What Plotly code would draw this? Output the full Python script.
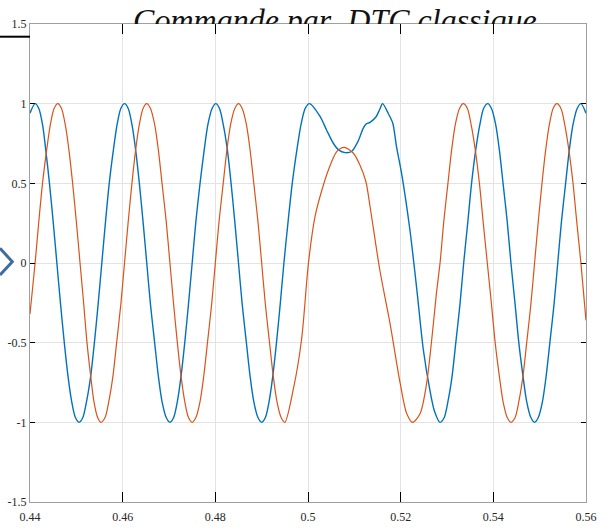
import plotly.graph_objects as go

# ---- data: (time s, value) ----
blue_points = [
    (0.4400, 0.94), (0.4411, 1.00), (0.4419, 0.97), (0.4427, 0.87), (0.4434, 0.71),
    (0.4442, 0.50), (0.4450, 0.26), (0.4458, 0.00), (0.4466, -0.26), (0.4474, -0.50),
    (0.4482, -0.71), (0.4490, -0.87), (0.4498, -0.97), (0.4506, -1.00), (0.4514, -0.97),
    (0.4522, -0.87), (0.4531, -0.71), (0.4539, -0.50), (0.4547, -0.26), (0.4555, 0.00),
    (0.4563, 0.26), (0.4571, 0.50), (0.4580, 0.71), (0.4588, 0.87), (0.4596, 0.97),
    (0.4604, 1.00), (0.4612, 0.97), (0.4620, 0.87), (0.4628, 0.71), (0.4636, 0.50),
    (0.4644, 0.26), (0.4652, 0.00), (0.4660, -0.26), (0.4669, -0.50), (0.4677, -0.71),
    (0.4685, -0.87), (0.4694, -0.97), (0.4702, -1.00), (0.4710, -0.97), (0.4718, -0.87),
    (0.4726, -0.71), (0.4734, -0.50), (0.4742, -0.26), (0.4750, 0.00), (0.4758, 0.26),
    (0.4767, 0.50), (0.4776, 0.71), (0.4784, 0.87), (0.4793, 0.97), (0.4801, 1.00),
    (0.4809, 0.97), (0.4817, 0.87), (0.4826, 0.71), (0.4834, 0.50), (0.4842, 0.26),
    (0.4850, 0.00), (0.4858, -0.26), (0.4867, -0.50), (0.4875, -0.71), (0.4883, -0.87),
    (0.4892, -0.97), (0.4900, -1.00), (0.4908, -0.97), (0.4916, -0.87), (0.4924, -0.71),
    (0.4932, -0.50), (0.4940, -0.26), (0.4948, 0.00), (0.4957, 0.26), (0.4966, 0.50),
    (0.4976, 0.71), (0.4985, 0.87), (0.4994, 0.97), (0.5003, 1.00),
    # disturbed interval
    (0.5026, 0.92), (0.5040, 0.835), (0.5055, 0.75), (0.5066, 0.71), (0.5080, 0.693),
    (0.5094, 0.70), (0.5109, 0.77), (0.5119, 0.845), (0.5125, 0.871), (0.5134, 0.883),
    (0.5147, 0.918), (0.5155, 0.965), (0.5161, 1.00), (0.5173, 0.94), (0.5183, 0.877),
    (0.5191, 0.73), (0.5202, 0.563), (0.5220, 0.207), (0.5235, -0.17), (0.5249, -0.546),
    (0.5263, -0.797), (0.5273, -0.93), (0.5285, -1.00),
    # after
    (0.5294, -0.97), (0.5302, -0.87), (0.5311, -0.71), (0.5319, -0.50), (0.5328, -0.26),
    (0.5336, 0.00), (0.5345, 0.26), (0.5353, 0.50), (0.5362, 0.71), (0.5371, 0.87),
    (0.5379, 0.97), (0.5388, 1.00), (0.5396, 0.97), (0.5405, 0.87), (0.5413, 0.71),
    (0.5421, 0.50), (0.5430, 0.26), (0.5438, 0.00), (0.5447, -0.26), (0.5455, -0.50),
    (0.5464, -0.71), (0.5472, -0.87), (0.5481, -0.97), (0.5489, -1.00), (0.5497, -0.97),
    (0.5506, -0.87), (0.5514, -0.71), (0.5522, -0.50), (0.5531, -0.26), (0.5539, 0.00),
    (0.5547, 0.26), (0.5556, 0.50), (0.5564, 0.71), (0.5572, 0.87), (0.5581, 0.97),
    (0.5589, 1.00), (0.5600, 0.94),
]

orange_points = [
    (0.4400, -0.32), (0.4411, 0.00), (0.4419, 0.26), (0.4427, 0.50), (0.4436, 0.71),
    (0.4444, 0.87), (0.4452, 0.97), (0.4460, 1.00), (0.4468, 0.97), (0.4476, 0.87),
    (0.4484, 0.71), (0.4492, 0.50), (0.4500, 0.26), (0.4508, 0.00), (0.4516, -0.26),
    (0.4523, -0.50), (0.4531, -0.71), (0.4538, -0.87), (0.4546, -0.97), (0.4553, -1.00),
    (0.4562, -0.97), (0.4570, -0.87), (0.4579, -0.71), (0.4587, -0.50), (0.4596, -0.26),
    (0.4604, 0.00), (0.4612, 0.26), (0.4620, 0.50), (0.4628, 0.71), (0.4636, 0.87),
    (0.4644, 0.97), (0.4652, 1.00), (0.4660, 0.97), (0.4669, 0.87), (0.4677, 0.71),
    (0.4685, 0.50), (0.4694, 0.26), (0.4702, 0.00), (0.4710, -0.26), (0.4718, -0.50),
    (0.4726, -0.71), (0.4734, -0.87), (0.4742, -0.97), (0.4750, -1.00), (0.4758, -0.97),
    (0.4767, -0.87), (0.4775, -0.71), (0.4783, -0.50), (0.4792, -0.26), (0.4800, 0.00),
    (0.4808, 0.26), (0.4817, 0.50), (0.4825, 0.71), (0.4833, 0.87), (0.4842, 0.97),
    (0.4850, 1.00), (0.4858, 0.97), (0.4867, 0.87), (0.4875, 0.71), (0.4883, 0.50),
    (0.4892, 0.26), (0.4900, 0.00), (0.4908, -0.26), (0.4917, -0.50), (0.4925, -0.71),
    (0.4933, -0.87), (0.4942, -0.97), (0.4950, -1.00),
    # disturbed interval
    (0.4968, -0.797), (0.4986, -0.483), (0.5001, 0.00), (0.5015, 0.29), (0.5030, 0.458),
    (0.5044, 0.584), (0.5062, 0.699), (0.5078, 0.726), (0.5098, 0.689), (0.5112, 0.615),
    (0.5125, 0.51), (0.5134, 0.353), (0.5155, -0.044), (0.5177, -0.379), (0.5199, -0.756),
    (0.5213, -0.944), (0.5226, -1.00), (0.5242, -0.944), (0.5256, -0.756), (0.5278, -0.17),
    # after
    (0.5285, 0.00), (0.5293, 0.26), (0.5302, 0.50), (0.5310, 0.71), (0.5318, 0.87),
    (0.5327, 0.97), (0.5335, 1.00), (0.5344, 0.97), (0.5352, 0.87), (0.5361, 0.71),
    (0.5370, 0.50), (0.5378, 0.26), (0.5387, 0.00), (0.5396, -0.26), (0.5404, -0.50),
    (0.5413, -0.71), (0.5421, -0.87), (0.5430, -0.97), (0.5438, -1.00), (0.5447, -0.97),
    (0.5455, -0.87), (0.5464, -0.71), (0.5472, -0.50), (0.5481, -0.26), (0.5489, 0.00),
    (0.5497, 0.26), (0.5505, 0.50), (0.5513, 0.71), (0.5521, 0.87), (0.5529, 0.97),
    (0.5537, 1.00), (0.5546, 0.97), (0.5554, 0.87), (0.5563, 0.71), (0.5572, 0.50),
    (0.5580, 0.26), (0.5589, 0.00), (0.5600, -0.36),
]

x_ticks = [0.44, 0.46, 0.48, 0.50, 0.52, 0.54, 0.56]
x_tick_labels = ["0.44", "0.46", "0.48", "0.5", "0.52", "0.54", "0.56"]
y_ticks = [-1.5, -1, -0.5, 0, 0.5, 1, 1.5]
y_tick_labels = ["-1.5", "-1", "-0.5", "0", "0.5", "1", "1.5"]
title_text = "Commande par\u00a0 DTC classique"

t_blue = [p[0] for p in blue_points]
y_blue = [p[1] for p in blue_points]
t_orange = [p[0] for p in orange_points]
y_orange = [p[1] for p in orange_points]

# ---- layout geometry (pixels) ----
W, H = 613, 531
L, R, B = 30, 27, 29
plot_h = H - B            # 502 (top margin 0)
axes_top = 24
main_top = (plot_h - axes_top) / plot_h

blue = "#0072BD"
orange = "#D95319"
tick_font = dict(family="Liberation Serif, Times New Roman, serif", size=12, color="#262626")

fig = go.Figure()
fig.add_trace(go.Scatter(x=t_blue, y=y_blue, mode="lines",
                         line=dict(color=blue, width=1.4, shape="spline", smoothing=0.8),
                         hoverinfo="skip", showlegend=False))
fig.add_trace(go.Scatter(x=t_orange, y=y_orange, mode="lines",
                         line=dict(color=orange, width=1.2, shape="spline", smoothing=0.8),
                         hoverinfo="skip", showlegend=False))
# title, clipped by the top edge of the axes as in the reference
fig.add_trace(go.Scatter(x=[0.5058], y=[1], mode="text", text=[title_text],
                         textposition="middle center", cliponaxis=True,
                         textfont=dict(family="Liberation Serif, Times New Roman, serif",
                                       size=32, color="#111111", style="italic"),
                         xaxis="x2", yaxis="y2", hoverinfo="skip", showlegend=False))

axis_common = dict(showline=True, linecolor="#a0a0a0", linewidth=1, mirror="allticks",
                   ticks="inside", tickcolor="black", tickwidth=1,
                   showgrid=True, gridcolor="#e3e3e3", gridwidth=1, zeroline=False,
                   tickfont=tick_font)

fig.update_layout(
    width=W, height=H,
    margin=dict(l=L, r=R, t=0, b=B, autoexpand=False),
    paper_bgcolor="white", plot_bgcolor="white",
    xaxis=dict(range=[0.44, 0.56], tickvals=x_ticks, ticktext=x_tick_labels,
               ticklen=10, anchor="y", domain=[0, 1], ticklabelstandoff=4, **axis_common),
    yaxis=dict(range=[-1.5, 1.5], tickvals=y_ticks, ticktext=y_tick_labels,
               ticklen=5, anchor="x", domain=[0, main_top], **axis_common),
    xaxis2=dict(range=[0.44, 0.56], domain=[0, 1], anchor="y2", visible=False),
    yaxis2=dict(range=[0, axes_top], domain=[main_top, 1], anchor="x2", visible=False),
    shapes=[
        dict(type="line", xref="paper", yref="paper",
             x0=-L / 556, x1=0, y0=(plot_h - 36.7) / plot_h, y1=(plot_h - 36.7) / plot_h,
             line=dict(color="black", width=2)),
        dict(type="path", xref="paper", yref="paper",
             path="M {:.5f},{:.5f} L {:.5f},{:.5f} L {:.5f},{:.5f}".format(
                 -L / 556, (plot_h - 248.3) / plot_h,
                 (12.3 - L) / 556, (plot_h - 261.7) / plot_h,
                 -L / 556, (plot_h - 275) / plot_h),
             line=dict(color="#3f6e9e", width=3)),
    ],
)

fig.write_html("out.html")
